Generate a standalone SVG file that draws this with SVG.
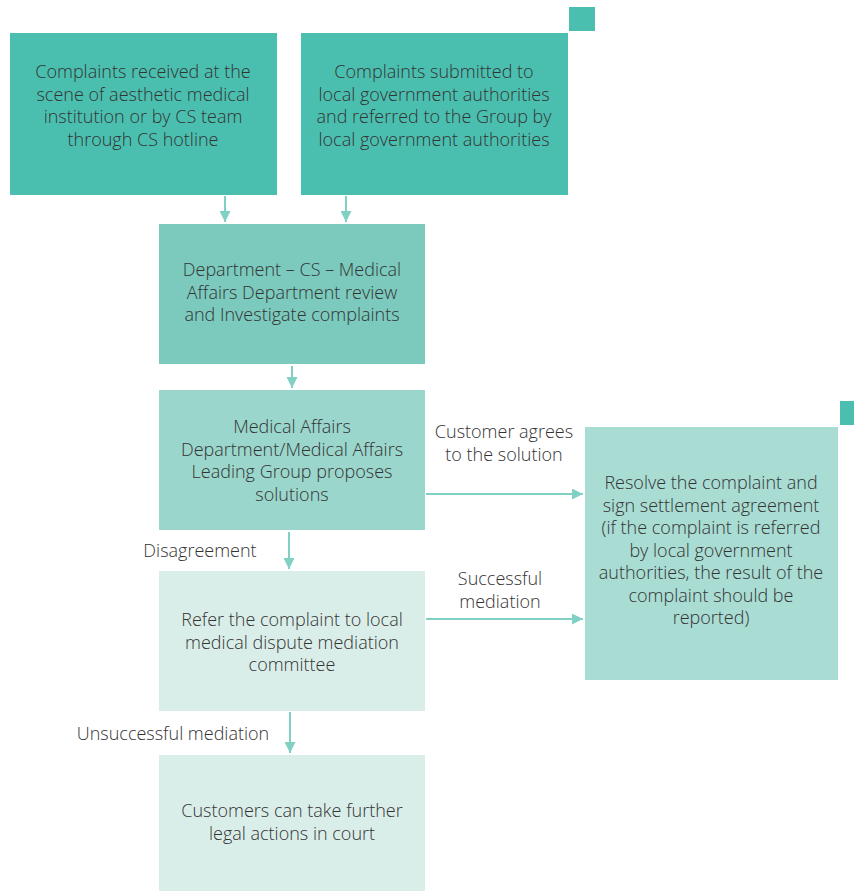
<svg xmlns="http://www.w3.org/2000/svg" width="854" height="891" viewBox="0 0 854 891">
<style>
text{font-family:"Open Sans","Liberation Sans",Arial,sans-serif;font-weight:300;font-size:18px;fill:#333;text-anchor:middle;dominant-baseline:central}
.lbl{font-size:18px}
.edge{stroke:#80d0c3;stroke-width:2;fill:none}
</style>
<defs>
<marker id="ah" viewBox="0 0 10 10" refX="10" refY="5" markerWidth="5.5" markerHeight="5.5" orient="auto" markerUnits="strokeWidth">
<path d="M0,0 L10,5 L0,10 z" fill="#80d0c3"/>
</marker>
</defs>
<rect width="854" height="891" fill="#fff"/>
<rect x="569" y="7" width="26" height="24" fill="#4bbfaf"/>
<rect x="840" y="401" width="14" height="24" fill="#4bbfaf"/>
<g id="n1">
<rect x="10" y="33" width="267" height="162" fill="#4bbfaf"/>
<text x="143" y="71">Complaints received at the</text>
<text x="143" y="93.5">scene of aesthetic medical</text>
<text x="143" y="116">institution or by CS team</text>
<text x="143" y="138.5">through CS hotline</text>
</g>
<g id="n2">
<rect x="301" y="33" width="267" height="162" fill="#4bbfaf"/>
<text x="434" y="71">Complaints submitted to</text>
<text x="434" y="93.5">local government authorities</text>
<text x="434" y="116">and referred to the Group by</text>
<text x="434" y="138.5">local government authorities</text>
</g>
<g id="n3">
<rect x="159" y="224" width="266" height="140" fill="#7bcabd"/>
<text x="292" y="269">Department – CS – Medical</text>
<text x="292" y="291.5">Affairs Department review</text>
<text x="292" y="314">and Investigate complaints</text>
</g>
<g id="n4">
<rect x="159" y="390" width="266" height="140" fill="#9ad6cb"/>
<text x="292" y="426">Medical Affairs</text>
<text x="292" y="448.5">Department/Medical Affairs</text>
<text x="292" y="471">Leading Group proposes</text>
<text x="292" y="493.5">solutions</text>
</g>
<g id="n5">
<rect x="585" y="427" width="253" height="253" fill="#a9dcd3"/>
<text x="711" y="482">Resolve the complaint and</text>
<text x="711" y="504.5">sign settlement agreement</text>
<text x="711" y="527">(if the complaint is referred</text>
<text x="711" y="549.5">by local government</text>
<text x="711" y="572">authorities, the result of the</text>
<text x="711" y="594.5">complaint should be</text>
<text x="711" y="617">reported)</text>
</g>
<g id="n6">
<rect x="159" y="571" width="266" height="140" fill="#daeee9"/>
<text x="292" y="619">Refer the complaint to local</text>
<text x="292" y="641.5">medical dispute mediation</text>
<text x="292" y="664">committee</text>
</g>
<g id="n7">
<rect x="159" y="755" width="266" height="136" fill="#daeee9"/>
<text x="292" y="810">Customers can take further</text>
<text x="292" y="832.5">legal actions in court</text>
</g>
<g id="edges">
<line class="edge" x1="225" y1="196" x2="225" y2="222" marker-end="url(#ah)"/>
<line class="edge" x1="346" y1="196" x2="346" y2="222" marker-end="url(#ah)"/>
<line class="edge" x1="292" y1="366" x2="292" y2="388" marker-end="url(#ah)"/>
<line class="edge" x1="289" y1="532" x2="289" y2="569" marker-end="url(#ah)"/>
<line class="edge" x1="290" y1="712" x2="290" y2="753" marker-end="url(#ah)"/>
<line class="edge" x1="426" y1="494" x2="583" y2="494" marker-end="url(#ah)"/>
<line class="edge" x1="426" y1="619" x2="583" y2="619" marker-end="url(#ah)"/>
<text class="lbl" x="504" y="431">Customer agrees</text>
<text class="lbl" x="504" y="453.5">to the solution</text>
<text class="lbl" x="200" y="550">Disagreement</text>
<text class="lbl" x="500" y="578">Successful</text>
<text class="lbl" x="500" y="600.5">mediation</text>
<text class="lbl" x="173" y="733">Unsuccessful mediation</text>
</g>
</svg>
